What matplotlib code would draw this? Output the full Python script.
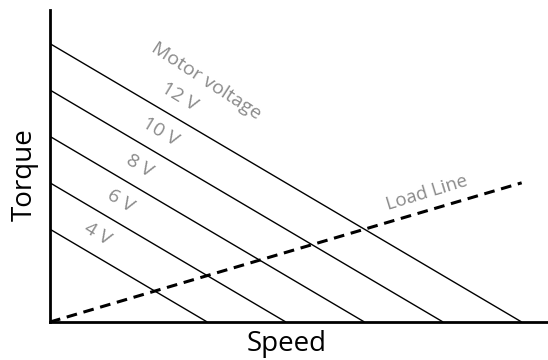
import matplotlib.pyplot as plt
import numpy as np

# motor voltages and their stall torque / no-load speed (same units)
voltages = [4, 6, 8, 10, 12]
stall_torque = [4, 6, 8, 10, 12]
no_load_speed = [4, 6, 8, 10, 12]
volt_labels = ['4 V', '6 V', '8 V', '10 V', '12 V']

# load line: torque rises with speed
load_speed = [0, 12]
load_torque = [0, 6]

plt.rcParams['font.family'] = ['Open Sans', 'DejaVu Sans']

fig = plt.figure(figsize=(5.48, 3.6), dpi=100)
ax = fig.add_axes([50 / 548, 38 / 360, 498 / 548, 312 / 360])

for t0, s0 in zip(stall_torque, no_load_speed):
    ax.plot([0, s0], [t0, 0], color='black', lw=1.0, solid_capstyle='butt')

ax.plot(load_speed, load_torque, color='black', lw=2.2,
        dashes=(3.5, 2.2))

# voltage labels just above each line
label_x = [1.22, 1.8, 2.29, 2.82, 3.3]
for v, lx, txt in zip(stall_torque, label_x, volt_labels):
    ax.text(lx, v - lx + 1.0, txt, color='#8a8a8a', fontsize=14,
            rotation=-31, ha='center', va='center')

ax.text(3.98, 10.38, 'Motor voltage', color='#8a8a8a', fontsize=14,
        rotation=-33, ha='center', va='center')
ax.text(9.59, 5.55, 'Load Line', color='#8a8a8a', fontsize=13.5,
        rotation=17, ha='center', va='center')

ax.set_xlim(0, 12.67)
ax.set_ylim(0, 13.45)
ax.set_xticks([])
ax.set_yticks([])
ax.spines['top'].set_visible(False)
ax.spines['right'].set_visible(False)
ax.spines['left'].set_linewidth(2)
ax.spines['bottom'].set_linewidth(2)

# axis titles placed like the drawing
fig.text(287 / 548, 1 - 344 / 360, 'Speed', fontsize=20,
         ha='center', va='center')
fig.text(25 / 548, 1 - 175 / 360, 'Torque', fontsize=20,
         rotation=90, ha='center', va='center')

fig.savefig('out.png', dpi=100)
